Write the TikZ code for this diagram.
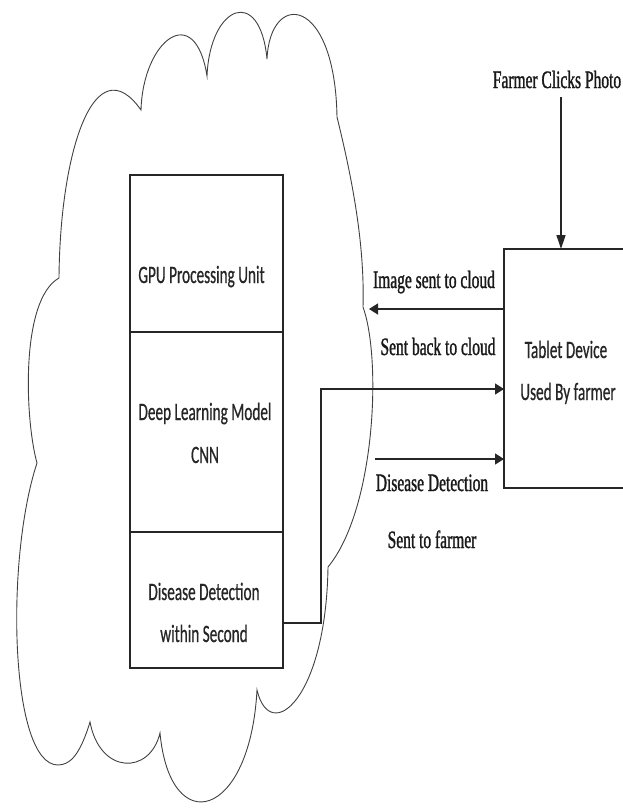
\documentclass[tikz,border=0pt]{standalone}
\usepackage{fontspec}
\setmainfont{Liberation Serif}
\newfontfamily\boxfont[FakeStretch=0.61,FakeBold=0.6]{Carlito}
\newfontfamily\labfont[FakeStretch=0.62,FakeBold=1.2]{Liberation Serif}
\usetikzlibrary{arrows.meta,calc}
\begin{document}
\begin{tikzpicture}[x=1pt,y=-1pt,
  stackbox/.style={draw=black!85,line width=1.4pt,minimum width=153pt,inner sep=0pt,outer sep=0pt},
  boxtxt/.style={font=\boxfont\fontsize{25}{30}\selectfont,text=black!85,anchor=base,inner sep=0pt},
  labtxt/.style={font=\labfont\fontsize{25}{30}\selectfont,text=black!90,anchor=base,inner sep=0pt},
  conn/.style={draw=black!85,line width=1.3pt},
  harrow/.style={-{Triangle[length=9pt,width=11pt]}},
  varrow/.style={-{Triangle[length=14pt,width=9pt]}},
  cloudline/.style={draw=black!75,line width=0.9pt}]
\useasboundingbox (0,0) rectangle (623,809);

% cloud
\draw[cloudline] (59,278)
 .. controls (60,150) and (95,45) .. (141,110)
 .. controls (143,40) and (195,0) .. (207,76)
 .. controls (210,5) and (260,-15) .. (267,59)
 .. controls (270,-10) and (335,-5) .. (337,117)
 .. controls (350,170) and (365,240) .. (363,307)
 .. controls (382,360) and (375,510) .. (328,567)
 .. controls (326,700) and (270,745) .. (257,690)
 .. controls (250,820) and (170,840) .. (160,733)
 .. controls (150,775) and (100,775) .. (90,722)
 .. controls (80,755) and (70,765) .. (58,765)
 .. controls (10,765) and (5,560) .. (37,463)
 .. controls (25,420) and (20,300) .. cycle;

% stack boxes
\node[stackbox,minimum height=157pt] (gpu) at (206.5,253.5) {};
\node[stackbox,minimum height=200pt] (dlm) at (206.5,432) {};
\node[stackbox,minimum height=136pt] (dd) at (206.5,600) {};
\node[draw=black!85,line width=1.4pt,minimum width=124pt,minimum height=239pt,inner sep=0pt,outer sep=0pt] (tab) at (566,368.5) {};

% box texts
\node[boxtxt] (t1) at (201.5,283) {GPU Processing Unit};
\node[boxtxt] (t2) at (205,420) {Deep Learning Model};
\node[boxtxt] (t3) at (205,463) {CNN};
\node[boxtxt] (t4) at (204,600) {Disease Detection};
\node[boxtxt] (t5) at (204,642) {within Second};
\node[boxtxt] (t6) at (566,358) {Tablet Device};
\node[boxtxt] (t7) at (568,400) {Used By farmer};

% labels
\node[labtxt] (l0) at (557,88) {Farmer Clicks Photo};
\node[labtxt] (l1) at (434,288) {Image sent to cloud};
\node[labtxt] (l2) at (438,355) {Sent back to cloud};
\node[labtxt] (l3) at (432,491) {Disease Detection};
\node[labtxt] (l4) at (432,548) {Sent to farmer};

% connectors
\coordinate (cloudin) at (369,309);
\coordinate (bend) at (321,623);
\coordinate (ddstart) at (375,459);
\coordinate (ftop) at (561,97);
\draw[conn,varrow] (ftop) -- (ftop |- tab.north);
\draw[conn,harrow] (tab.west |- cloudin) -- (cloudin);
\draw[conn,harrow] (dd.east |- bend) -- (bend) |- (tab.west |- 0,389);
\draw[conn,harrow] (ddstart) -- (tab.west |- ddstart);
\end{tikzpicture}
\end{document}
